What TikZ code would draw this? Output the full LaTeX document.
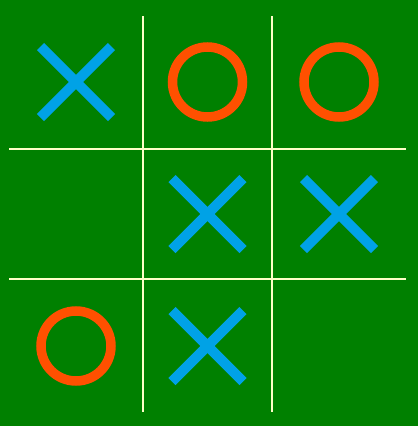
\documentclass[tikz,border=0pt]{standalone}
\usetikzlibrary{calc}
\definecolor{boardgreen}{RGB}{0,128,0}
\definecolor{gridline}{RGB}{255,255,200}
\definecolor{xblue}{RGB}{0,162,230}
\definecolor{oorange}{RGB}{255,80,0}
\begin{document}
\begin{tikzpicture}[x=1pt,y=-1pt,
  gridstroke/.style={draw=gridline,line width=2pt},
  xmark/.style={draw=xblue,line width=10pt},
  omark/.style={draw=oorange,line width=9.5pt}]
\fill[boardgreen] (0,0) rectangle (418,426);
\useasboundingbox (0,0) rectangle (418,426);
% grid
\draw[gridstroke] (143,16) -- (143,412);
\draw[gridstroke] (272,16) -- (272,412);
\draw[gridstroke] (9,149) -- (406,149);
\draw[gridstroke] (9,279) -- (406,279);
% cell centres
\foreach \c/\x in {a/76,b/207.5,c/339}
  \foreach \r/\y in {1/82,2/214,3/346}
    \coordinate (\c\r) at (\x,\y);
% X marks
\foreach \p in {a1,b2,c2,b3}{
  \draw[xmark] ($(\p)+(-35.5,-35.5)$) -- ($(\p)+(35.5,35.5)$);
  \draw[xmark] ($(\p)+(-35.5,35.5)$) -- ($(\p)+(35.5,-35.5)$);
}
% O marks
\foreach \p in {b1,c1,a3}
  \draw[omark] (\p) circle[radius=35];
\end{tikzpicture}
\end{document}
